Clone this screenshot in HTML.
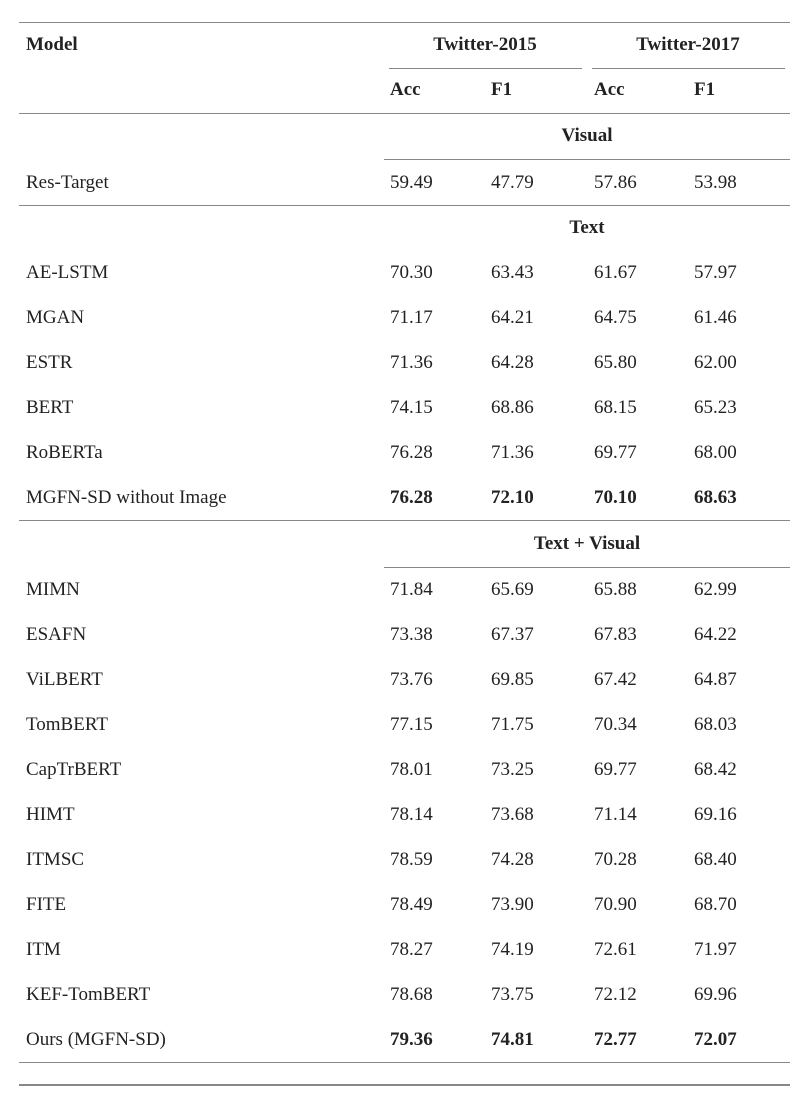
<!DOCTYPE html>
<html><head><meta charset="utf-8"><style>
body{margin:0;width:800px;height:1094px;background:#fff;position:relative;font-family:"Liberation Serif",serif;font-size:19px;color:#222;overflow:hidden}
.t{position:absolute;white-space:nowrap;line-height:22px;transform:translateY(-9px)}
.b{font-weight:bold}
.l{position:absolute;height:1px;background:#888}
.c{text-align:center;width:400px}
</style></head><body>
<div class="l" style="left:19px;width:771px;top:22px"></div>
<div class="t b" style="left:26px;top:43px">Model</div>
<div class="t b c" style="left:285px;top:43px">Twitter-2015</div>
<div class="t b c" style="left:488px;top:43px">Twitter-2017</div>
<div class="l" style="left:389px;width:193px;top:68px"></div>
<div class="l" style="left:592px;width:193px;top:68px"></div>
<div class="t b" style="left:390px;top:88px">Acc</div>
<div class="t b" style="left:491px;top:88px">F1</div>
<div class="t b" style="left:594px;top:88px">Acc</div>
<div class="t b" style="left:694px;top:88px">F1</div>
<div class="l" style="left:19px;width:771px;top:113px"></div>
<div class="l" style="left:19px;width:771px;top:1084px;height:2px"></div>
<script>
const groups=["Visual","Text","Text + Visual"];
const models=[["Res-Target"],["AE-LSTM","MGAN","ESTR","BERT","RoBERTa","MGFN-SD without Image"],["MIMN","ESAFN","ViLBERT","TomBERT","CapTrBERT","HIMT","ITMSC","FITE","ITM","KEF-TomBERT","Ours (MGFN-SD)"]];
const vals=[[["59.49","47.79","57.86","53.98"]],
[["70.30","63.43","61.67","57.97"],["71.17","64.21","64.75","61.46"],["71.36","64.28","65.80","62.00"],["74.15","68.86","68.15","65.23"],["76.28","71.36","69.77","68.00"],["76.28","72.10","70.10","68.63"]],
[["71.84","65.69","65.88","62.99"],["73.38","67.37","67.83","64.22"],["73.76","69.85","67.42","64.87"],["77.15","71.75","70.34","68.03"],["78.01","73.25","69.77","68.42"],["78.14","73.68","71.14","69.16"],["78.59","74.28","70.28","68.40"],["78.49","73.90","70.90","68.70"],["78.27","74.19","72.61","71.97"],["78.68","73.75","72.12","69.96"],["79.36","74.81","72.77","72.07"]]];
const cols=[390,491,594,694];
const R=document.body;
const headOff=[47,45,46];
let y=134;
function add(cls,txt,x,yy){const d=document.createElement('div');d.className=cls;d.textContent=txt;d.style.left=x+'px';d.style.top=yy+'px';R.appendChild(d);return d;}
function line(x,w,yy){const d=document.createElement('div');d.className='l';d.style.left=x+'px';d.style.width=w+'px';d.style.top=yy+'px';R.appendChild(d);return d;}
groups.forEach((g,gi)=>{
  const h=add('t b c',g,387,y);
  
  
  if(gi!==1){const l=line(384,406,y+25);
    
    }
  y+=headOff[gi];
  let last=y;
  models[gi].forEach((m,mi)=>{
    const bold=(gi===1&&mi===5)||(gi===2&&mi===10);
    const n=add('t',m,26,y);
    
    
    vals[gi][mi].forEach((v,ci)=>{
      const c=add('t'+(bold?' b':''),v,cols[ci],y);
      
      
    });
    last=y;
    y+=45;
  });
  const l=line(19,771,last+24);
  
  
  if(gi===1) y+=1;
});
</script>
</body></html>
